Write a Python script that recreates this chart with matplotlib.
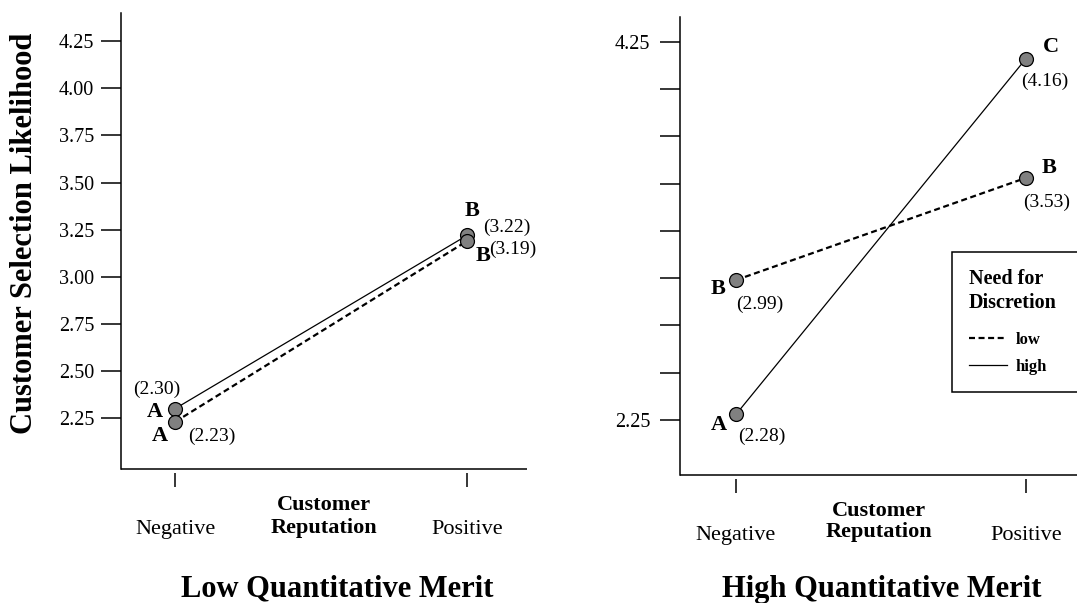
import matplotlib
matplotlib.use("Agg")
import matplotlib.pyplot as plt
from matplotlib.lines import Line2D

plt.rcParams["font.family"] = ["Liberation Serif", "DejaVu Serif"]

# ---- data -------------------------------------------------------------
reputation = ["Negative", "Positive"]
x_pos = [0, 1]

# Low quantitative merit
low_merit_low_disc = [2.23, 3.19]
low_merit_high_disc = [2.30, 3.22]
low_merit_low_letters = ["A", "B"]
low_merit_high_letters = ["A", "B"]

# High quantitative merit
high_merit_low_disc = [2.99, 3.53]
high_merit_high_disc = [2.28, 4.16]
high_merit_low_letters = ["B", "B"]
high_merit_high_letters = ["A", "C"]

y_ticks = [2.25, 2.50, 2.75, 3.00, 3.25, 3.50, 3.75, 4.00, 4.25]
left_tick_labels = ["2.25", "2.50", "2.75", "3.00", "3.25", "3.50", "3.75", "4.00", "4.25"]
right_tick_labels = ["2.25", "", "", "", "", "", "", "", "4.25"]

panel_titles = ["Low Quantitative Merit", "High Quantitative Merit"]
x_title = "Customer\nReputation"
y_title = "Customer Selection Likelihood"
legend_title = "Need for\nDiscretion"
legend_labels = ["low", "high"]

# ---- styling ----------------------------------------------------------
W, H = 1077, 603
fig = plt.figure(figsize=(W / 100, H / 100), dpi=100)

def fig_rect(x0, y_top, x1, y_bot):
    return [x0 / W, 1 - y_bot / H, (x1 - x0) / W, (y_bot - y_top) / H]

ax1 = fig.add_axes(fig_rect(121, 13, 527, 469))
ax2 = fig.add_axes(fig_rect(680, 17, 1077, 475))

DASH = dict(color="black", lw=1.6, dashes=(2.7, 1.6))
SOLID = dict(color="black", lw=0.9)
MARK = dict(marker="o", markersize=10, markerfacecolor="#808080",
            markeredgecolor="black", markeredgewidth=0.9)


def style_axes(ax, ylim, xlim, tick_labels, ypad):
    ax.set_ylim(*ylim)
    ax.set_xlim(*xlim)
    for s in ("top", "right"):
        ax.spines[s].set_visible(False)
    ax.spines["left"].set_linewidth(1.1)
    # x ticks sit slightly below the axis line
    ax.spines["bottom"].set_position(("outward", 3))
    ax.spines["bottom"].set_visible(False)
    ax.plot([0, 1], [0, 0], transform=ax.transAxes, color="black",
            lw=1.1, clip_on=False, solid_capstyle="butt")
    ax.set_yticks(y_ticks)
    ax.set_yticklabels(tick_labels)
    ax.set_xticks(x_pos)
    ax.set_xticklabels(reputation)
    ax.tick_params(axis="y", direction="out", length=14.4, width=1.1,
                   labelsize=14.5, pad=ypad)
    ax.tick_params(axis="x", direction="out", length=10, width=1.1,
                   labelsize=16, pad=24)


def label_points(ax, values, letters, letter_offsets, value_offsets):
    for x, v, letter, lo, vo in zip(x_pos, values, letters,
                                    letter_offsets, value_offsets):
        ax.annotate(letter, (x, v), xytext=lo, textcoords="offset pixels",
                    ha="center", va="center", fontsize=16,
                    fontweight="bold", annotation_clip=False)
        ax.annotate(f"({v:.2f})", (x, v), xytext=vo,
                    textcoords="offset pixels", ha="center", va="center",
                    fontsize=14, annotation_clip=False)


# ---- left panel -------------------------------------------------------
style_axes(ax1, (1.98, 4.40), (-0.185, 1.205), left_tick_labels, 5)
ax1.plot(x_pos, low_merit_high_disc, **SOLID, **MARK, zorder=3)
ax1.plot(x_pos, low_merit_low_disc, **DASH, **MARK, zorder=3)
label_points(ax1, low_merit_high_disc, low_merit_high_letters,
             [(-20, -3), (5, 24)], [(-18, 19), (40, 8)])
label_points(ax1, low_merit_low_disc, low_merit_low_letters,
             [(-15, -14), (16, -15)], [(37, -14), (46, -8)])
ax1.set_xlabel(x_title, fontsize=16, fontweight="bold", linespacing=1.25)
ax1.xaxis.label.set_va("center")
ax1.xaxis.set_label_coords(0.5, -0.104)

# ---- right panel ------------------------------------------------------
style_axes(ax2, (1.96, 4.38), (-0.193, 1.176), right_tick_labels, 7)
ax2.plot(x_pos, high_merit_high_disc, **SOLID, **MARK, zorder=3)
ax2.plot(x_pos, high_merit_low_disc, **DASH, **MARK, zorder=3)
label_points(ax2, high_merit_high_disc, high_merit_high_letters,
             [(-17, -11), (25, 12)], [(26, -22), (19, -23)])
label_points(ax2, high_merit_low_disc, high_merit_low_letters,
             [(-18, -9), (23, 10)], [(24, -24), (21, -24)])
ax2.set_xlabel(x_title, fontsize=16, fontweight="bold", linespacing=1.05)
ax2.xaxis.label.set_va("center")
ax2.xaxis.set_label_coords(0.5, -0.1015)

handles = [Line2D([], [], **DASH), Line2D([], [], **SOLID)]
leg = ax2.legend(handles, legend_labels, title=legend_title,
                 loc="upper left",
                 bbox_to_anchor=(952 / W, 1 - 393 / H, 145 / W, 141 / H),
                 bbox_transform=fig.transFigure, borderaxespad=0,
                 mode="expand", frameon=True, fancybox=False, framealpha=1,
                 edgecolor="black", alignment="left",
                 prop={"weight": "bold", "size": 12},
                 title_fontproperties={"weight": "bold", "size": 14.5},
                 handlelength=2.3, handletextpad=0.5, borderpad=1.0,
                 labelspacing=0.69)
leg.get_frame().set_linewidth(1.1)
leg.get_title().set_linespacing(1.3)
# extra room between the legend heading and its entries
leg._legend_box.sep = 13.3

# ---- titles -----------------------------------------------------------
fig.text(337 / W, 1 - 589 / H, panel_titles[0], ha="center", va="center",
         fontsize=22, fontweight="bold")
fig.text(882 / W, 1 - 589 / H, panel_titles[1], ha="center", va="center",
         fontsize=22, fontweight="bold")
fig.text(25 / W, 1 - 233 / H, y_title, rotation=90, ha="center",
         va="center", fontsize=22, fontweight="bold")

fig.savefig("out.png", dpi=100)
